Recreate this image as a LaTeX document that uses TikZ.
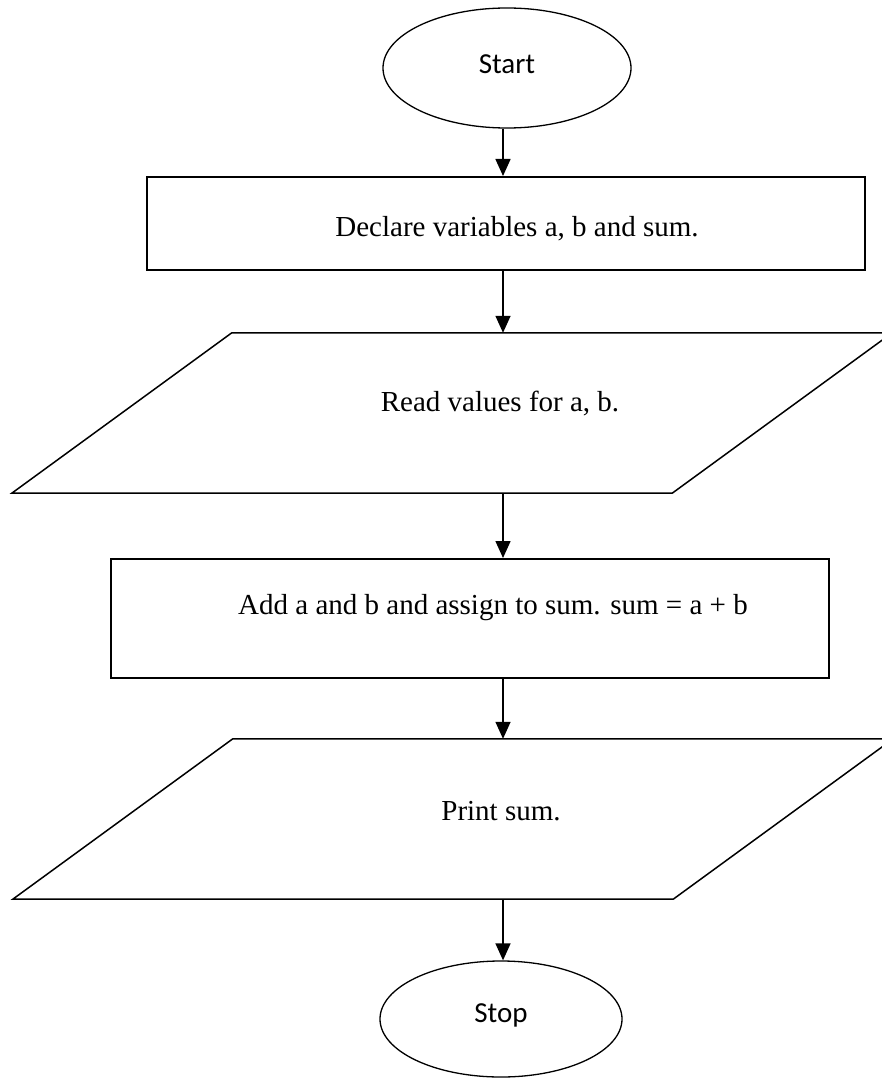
\documentclass[tikz,border=0pt]{standalone}
\usepackage{fontspec}
\setmainfont{Liberation Serif}
\newfontfamily\calib{Carlito}
\usetikzlibrary{shapes.geometric,arrows.meta,calc}
\begin{document}
\begin{tikzpicture}[x=1pt,y=-1pt,
  term/.style={ellipse,draw,line width=1.3pt,inner sep=0pt,font=\calib\fontsize{29}{34}\selectfont},
  procbox/.style={draw,line width=2pt,inner sep=0pt},
  holder/.style={inner sep=0pt,draw=none},
  para/.style={line width=1.5pt,line join=miter},
  txt/.style={inner sep=0pt,font=\fontsize{29}{34}\selectfont},
  arr/.style={line width=1.5pt,-{Triangle[length=17pt,width=15pt]}}]
\useasboundingbox (0,0) rectangle (882,1078);
\clip (0,0) rectangle (882,1078);
\fill[white] (0,0) rectangle (882,1078);
\coordinate (ax) at (503,0);
% Start
\node[term,minimum width=248,minimum height=120] (start) at (507,68) {};
\node[txt,font=\calib\fontsize{29}{34}\selectfont] (starttxt) at (507,64) {Start};
% Box 1
\node[procbox,minimum width=718,minimum height=93] (b1) at (506,223.5) {};
\node[txt] (b1txt) at (517,229) {Declare variables a, b and sum.};
% Para 1
\node[holder,minimum width=880,minimum height=160] (p1) at (452,413) {};
\draw[para] ($(p1.north west)+(220,0)$) -- (p1.north east) -- ($(p1.south east)+(-220,0)$) -- (p1.south west) -- cycle;
\node[txt] (p1txt) at (500,404) {Read values for a, b.};
% Box 2
\node[procbox,minimum width=718,minimum height=119] (b2) at (470,618.5) {};
\node[txt] (b2txt) at (493,608) {Add a and b and assign to sum. sum = a + b};
% Para 2
\node[holder,minimum width=880,minimum height=160] (p2) at (453,819) {};
\draw[para] ($(p2.north west)+(220,0)$) -- (p2.north east) -- ($(p2.south east)+(-220,0)$) -- (p2.south west) -- cycle;
\node[txt] (p2txt) at (501,811) {Print sum.};
% Stop
\node[term,minimum width=242,minimum height=116] (stop) at (501,1019) {};
\node[txt,font=\calib\fontsize{29}{34}\selectfont] (stoptxt) at (501,1015) {Stop};
% arrows
\draw[arr] (ax |- start.south) -- (ax |- b1.north);
\draw[arr] (ax |- b1.south) -- (ax |- p1.north);
\draw[arr] (ax |- p1.south) -- (ax |- b2.north);
\draw[arr] (ax |- b2.south) -- (ax |- p2.north);
\draw[arr] (ax |- p2.south) -- (ax |- stop.north);
\end{tikzpicture}
\end{document}
